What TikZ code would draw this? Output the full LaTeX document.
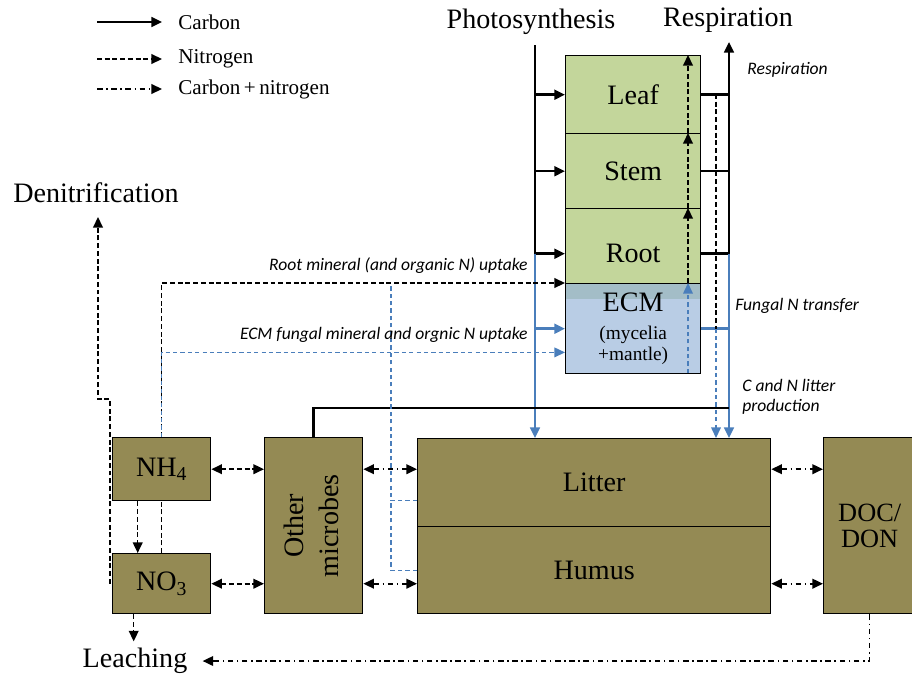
\documentclass[tikz,border=0pt]{standalone}
\usepackage{fontspec}
\setmainfont{Liberation Serif}
\newfontfamily\labelfont{Carlito}
\usetikzlibrary{arrows.meta, positioning, calc}
\definecolor{leafGreen}{RGB}{195,214,155}
\definecolor{ecmBlue}{RGB}{185,205,229}
\definecolor{ecmTeal}{RGB}{163,189,199}
\definecolor{soilOlive}{RGB}{148,138,84}
\definecolor{flowBlue}{RGB}{74,126,187}
\tikzset{
  boxFont/.style={font=\fontsize{16}{18}\selectfont},
  plantN/.style={rectangle, draw=black, line width=0.8pt, fill=leafGreen,
    minimum width=2.7cm, inner sep=0pt, anchor=north west, boxFont},
  ecmN/.style={plantN, fill=ecmBlue, path picture={
    \fill[ecmTeal] (path picture bounding box.north west)
      rectangle ([yshift=-0.3cm]path picture bounding box.north east);}},
  soilN/.style={rectangle, draw=black, line width=0.8pt, fill=soilOlive,
    inner sep=0pt, anchor=north west, align=center, boxFont},
  headL/.style={boxFont, inner sep=0pt},
  legL/.style={font=\fontsize{12}{14}\selectfont, anchor=west, inner sep=0pt},
  flowL/.style={font=\labelfont\itshape\fontsize{10}{11.5}\selectfont, inner sep=0pt},
  cLine/.style={line width=1.4pt, color=black},
  cArr/.style={cLine, -{Triangle[length=6pt,width=5.5pt]}},
  nLine/.style={line width=0.9pt, dash pattern=on 2.8pt off 1.6pt},
  nArr/.style={nLine, -{Triangle[length=6pt,width=5.5pt]}},
  nDbl/.style={nLine, {Triangle[length=6pt,width=5.5pt]}-{Triangle[length=6pt,width=5.5pt]}},
  cnLine/.style={line width=0.9pt, dash pattern=on 3.2pt off 2pt on 0.9pt off 2pt},
  cnArr/.style={cnLine, -{Triangle[length=6pt,width=5.5pt]}},
  cnDbl/.style={cnLine, {Triangle[length=6pt,width=5.5pt]}-{Triangle[length=6pt,width=5.5pt]}},
  bLine/.style={line width=1.4pt, color=flowBlue},
  bArr/.style={bLine, -{Triangle[length=6pt,width=5.5pt]}},
  bnLine/.style={line width=0.7pt, dash pattern=on 2.4pt off 1.8pt, color=flowBlue},
  bnArr/.style={bnLine, -{Triangle[length=6pt,width=5.5pt]}},
}
\begin{document}
\begin{tikzpicture}[x=0.02cm, y=-0.02cm]
\useasboundingbox (0,0) rectangle (912,677);

%% -- legend --
\node[legL] (legC) at (178,22) {Carbon};
\node[legL] (legN) at (178,59) {Nitrogen};
\node[legL] (legCN) at (178,89) {Carbon\,+\,nitrogen};
\draw[cArr] ([xshift=-1.62cm]legC.west) -- ([xshift=-0.32cm]legC.west);
\draw[nArr] ([xshift=-1.62cm]legN.west) -- ([xshift=-0.32cm]legN.west);
\draw[cnArr] ([xshift=-1.62cm]legCN.west) -- ([xshift=-0.32cm]legCN.west);

%% -- headers --
\node[headL] (photo) at (531,22) {Photosynthesis};
\node[headL] (resp) at (728,20) {Respiration};
\node[headL] (denit) at (96,193) {Denitrification};
\node[headL] (leach) at (135,661) {Leaching};

%% -- plant --
\node[plantN, minimum height=1.56cm] (leaf) at (565,55) {Leaf};
\node[plantN, minimum height=1.5cm] (stem) at (565,133) {Stem};
\node[plantN, minimum height=1.8cm] (root) at (565,208) {Root};
\node[ecmN, minimum height=1.8cm, align=center] (ecm) at (565,283)
  {ECM\\[-2pt]{\fontsize{11}{11}\selectfont (mycelia}\\[-6.5pt]{\fontsize{11}{11}\selectfont +mantle)}};

%% -- soil pools --
\node[soilN, minimum width=1.96cm, minimum height=1.26cm] (nh4) at (112,437) {NH\textsubscript{4}};
\node[soilN, minimum width=1.96cm, minimum height=1.2cm] (no3) at (112,553) {NO\textsubscript{3}};
\node[soilN, minimum width=1.96cm, minimum height=3.52cm] (mic) at (264,437)
  {\rotatebox{90}{\fontsize{16}{20}\selectfont\begin{tabular}{@{}c@{}}Other\\microbes\end{tabular}}};
\node[soilN, minimum width=7.06cm, minimum height=1.76cm] (litter) at (417,438) {Litter};
\node[soilN, minimum width=7.06cm, minimum height=1.74cm] (humus) at (417,526) {Humus};
\node[soilN, minimum width=1.84cm, minimum height=3.52cm,
      font=\fontsize{15}{14.5}\selectfont] (doc) at (823,437) {DOC/\\DON};

%% -- photosynthesis --
\coordinate (psTop) at (535,45);
\draw[cArr] (psTop) |- (leaf.west);
\draw[cArr] (psTop) |- (stem.west);
\draw[cArr] (psTop) |- (root.west);
\draw[bArr] (psTop |- root.west) -- (psTop |- litter.north);
\draw[bArr] (psTop |- ecm.west) -- (ecm.west);

%% -- respiration and litter production --
\coordinate (rsTop) at (729,42);
\draw[cArr] (leaf.east) -| (rsTop);
\draw[cLine] (stem.east) -- (stem.east -| rsTop);
\draw[cLine] (root.east) -| (rsTop |- leaf.east);
\draw[bArr] (rsTop |- root.east) -- (rsTop |- litter.north);
\draw[bLine] (ecm.east) -- (ecm.east -| rsTop);
\coordinate (lpX) at (716,94);
\draw[nLine] (lpX) -- (lpX |- ecm.east);
\draw[bnArr] (lpX |- ecm.east) -- (lpX |- litter.north);
\coordinate (cJoin) at (729,408);
\draw[cLine] (mic.north) |- (cJoin);

%% -- N transfer inside the plant --
\coordinate (inN) at (688,373);
\draw[bnArr] (inN) -- (inN |- ecm.north);
\draw[nArr] (inN |- ecm.north) -- (inN |- root.north);
\draw[nArr] (inN |- root.north) -- (inN |- stem.north);
\draw[nArr] (inN |- stem.north) -- (inN |- leaf.north);

%% -- uptake --
\draw[nLine] (no3.north) -- (nh4.south);
\draw[nArr] (nh4.north) |- (ecm.north west);
\draw[bnArr] (nh4.north) |- ([yshift=0.44cm]ecm.south west);
\coordinate (orgN) at (391,284);
\draw[bnLine] ([yshift=-0.36cm]litter.west) -| (orgN);
\draw[bnLine] (humus.west) -| ([yshift=-0.36cm]litter.west -| orgN);

%% -- mineral N --
\coordinate (dnJog) at (98,399);
\coordinate (dnTip) at (98,217);
\draw[nArr] ([xshift=-1pt]no3.west) -- ([xshift=-1pt]no3.west |- dnJog) -- (dnJog) -- (dnTip);
\draw[nArr] ([xshift=-0.48cm]nh4.south) -- ([xshift=-0.48cm]no3.north);
\draw[nArr] ([xshift=-0.56cm]no3.south) -- ++(0,27);
\draw[cnArr] (doc.south) |- ([xshift=0.3cm]leach.east);

%% -- exchange between pools --
\draw[nDbl] (nh4.east) -- (nh4.east -| mic.west);
\draw[nDbl] (no3.east) -- (no3.east -| mic.west);
\draw[cnDbl] (mic.east |- nh4.east) -- (litter.west |- nh4.east);
\draw[cnDbl] (mic.east |- no3.east) -- (humus.west |- no3.east);
\draw[cnDbl] (litter.east |- nh4.east) -- (doc.west |- nh4.east);
\draw[cnDbl] (humus.east |- no3.east) -- (doc.west |- no3.east);

%% -- flow labels --
\node[flowL, anchor=west] (lblResp) at (747,70) {Respiration};
\node[flowL, anchor=east] (lblRoot) at (528,266) {Root mineral (and organic N) uptake};
\node[flowL, anchor=east] (lblEcm) at (528,335) {ECM fungal mineral and orgnic N uptake};
\node[flowL, anchor=west] (lblFung) at (735,306) {Fungal N transfer};
\node[flowL, anchor=north west, align=left] (lblLit) at (742,379) {C and N litter\\production};

\end{tikzpicture}
\end{document}
